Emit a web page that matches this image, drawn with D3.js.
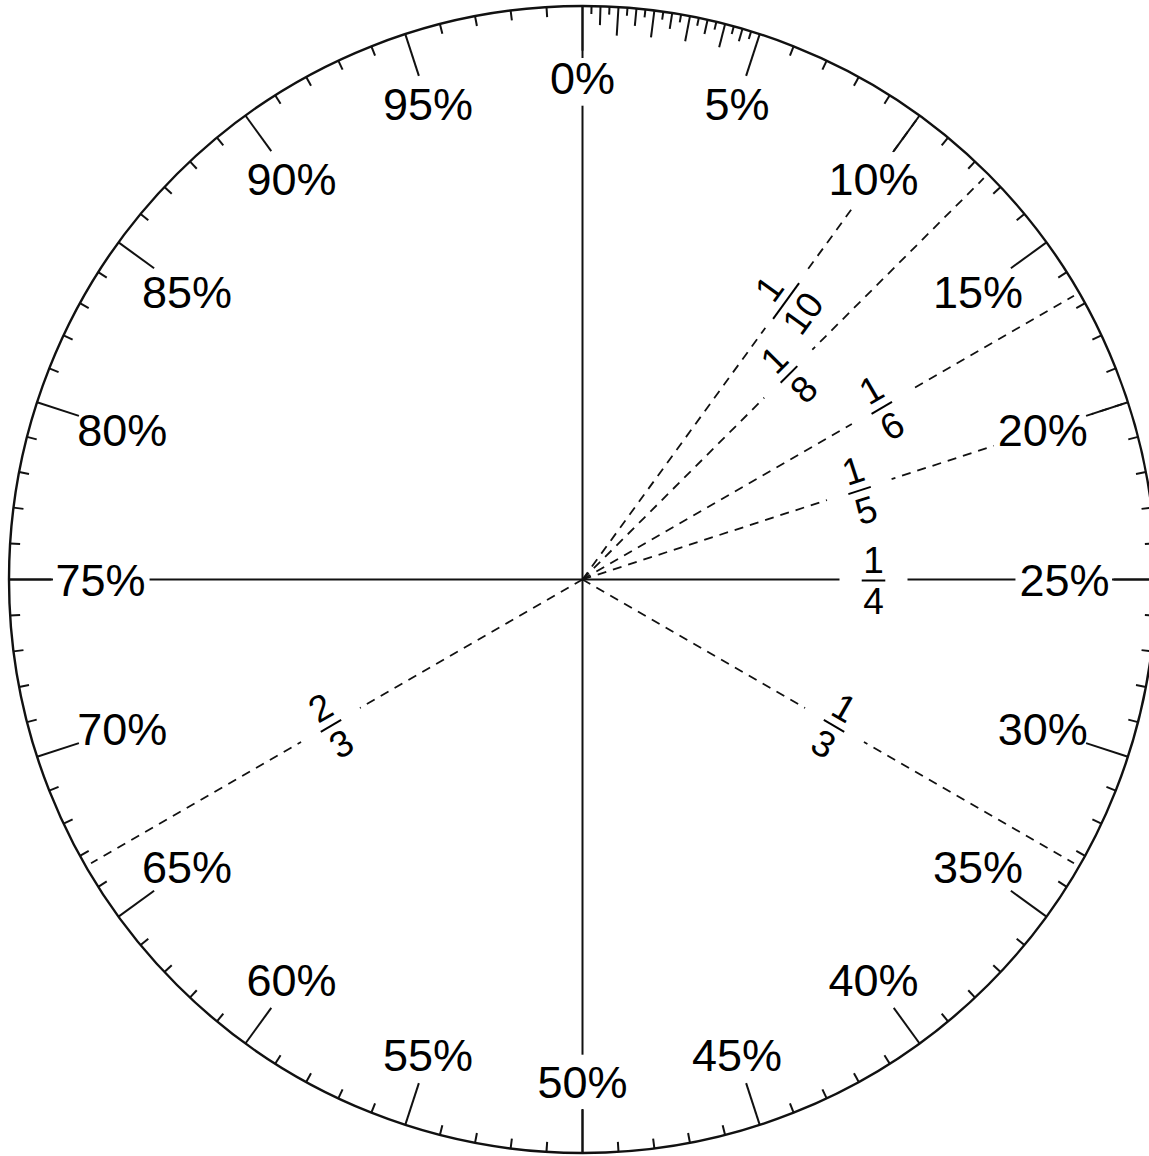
<!DOCTYPE html>
<html>
<head>
<meta charset="utf-8">
<script src="https://cdn.jsdelivr.net/npm/d3@7"></script>
<style>
  body { margin: 0; background: #fff; }
  text { font-family: "Liberation Sans", Arial, Helvetica, sans-serif; fill: #000; }
</style>
</head>
<body>
<script>
const width = 1149;
const height = 1156;
const cx = 582.5;
const cy = 579.5;
const radius = 573.5;

// labelled percentages round the dial
const percentLabels = [0, 5, 10, 15, 20, 25, 30, 35, 40, 45, 50, 55, 60, 65, 70, 75, 80, 85, 90, 95];
// fractions drawn as spokes: [numerator, denominator]
const fractions = [[1, 10], [1, 8], [1, 6], [1, 5], [1, 4], [1, 3], [2, 3]];
// the quarter axes, drawn solid
const axisValues = [0, 25, 50, 75];
// 1% ticks all round, quarter-percent ticks in the first 5%
const tickValues = d3.range(0, 100, 0.25).filter((p) => p < 5 || Number.isInteger(p));

const angle = d3.scaleLinear().domain([0, 100]).range([0, 2 * Math.PI]);
const pt = (p, r) => [cx + r * Math.sin(angle(p)), cy - r * Math.cos(angle(p))];

const svg = d3
  .select("body")
  .append("svg")
  .attr("width", width)
  .attr("height", height);

const gLines = svg.append("g");
const gBg = svg.append("g");
const gDial = svg.append("g");
const gText = svg.append("g");

// solid diameters
gLines
  .selectAll("line.axis")
  .data(axisValues)
  .enter()
  .append("line")
  .attr("class", "axis")
  .attr("x1", cx)
  .attr("y1", cy)
  .attr("x2", (d) => pt(d, radius)[0])
  .attr("y2", (d) => pt(d, radius)[1])
  .attr("stroke", "#111")
  .attr("stroke-width", 2);

// dashed fraction spokes
const fracData = fractions.map(([n, d]) => ({ n, d, p: (100 * n) / d }));
gLines
  .selectAll("line.frac")
  .data(fracData.filter((f) => !axisValues.includes(f.p)))
  .enter()
  .append("line")
  .attr("class", "frac")
  .attr("x1", cx)
  .attr("y1", cy)
  .attr("x2", (d) => pt(d.p, radius - 6)[0])
  .attr("y2", (d) => pt(d.p, radius - 6)[1])
  .attr("stroke", "#111")
  .attr("stroke-width", 1.8)
  .attr("stroke-dasharray", "9,7");

// outer circle
gDial
  .append("circle")
  .attr("cx", cx)
  .attr("cy", cy)
  .attr("r", radius)
  .attr("fill", "none")
  .attr("stroke", "#111")
  .attr("stroke-width", 2.4);

function tickLen(p) {
  if (p === 0) return 52;
  if (p % 5 === 0) return 44;
  if (p < 5) {
    if (Number.isInteger(p)) return 30 - 1.5 * p;
    if (p % 0.5 === 0) return 19.6 - 1.45 * p;
    return 8;
  }
  return 10;
}

gDial
  .selectAll("line.tick")
  .data(tickValues)
  .enter()
  .append("line")
  .attr("class", "tick")
  .attr("x1", (d) => pt(d, radius)[0])
  .attr("y1", (d) => pt(d, radius)[1])
  .attr("x2", (d) => pt(d, radius - tickLen(d))[0])
  .attr("y2", (d) => pt(d, radius - tickLen(d))[1])
  .attr("stroke", "#111")
  .attr("stroke-width", 2);

// percent labels
const labelR = (p) => 502 - 20 * Math.pow(Math.sin(angle(p)), 2);
const pctText = gText
  .selectAll("text.pct")
  .data(percentLabels)
  .enter()
  .append("text")
  .attr("class", "pct")
  .attr("x", (d) => pt(d, labelR(d))[0])
  .attr("y", (d) => pt(d, labelR(d))[1])
  .attr("dy", "0.36em")
  .attr("text-anchor", "middle")
  .attr("font-size", 45)
  .text((d) => d + "%");

pctText.each(function () {
  const b = this.getBBox();
  gBg
    .append("rect")
    .attr("x", b.x - 4)
    .attr("y", b.y - 2)
    .attr("width", b.width + 8)
    .attr("height", b.height + 4)
    .attr("fill", "#fff");
});

// fraction labels sit on their spokes, turned to the spoke's direction
const outerFracs = ["1/10", "1/6"];
fracData.forEach((f) => {
  const key = f.n + "/" + f.d;
  const r = outerFracs.includes(key) ? 345 : 291;
  const [x, y] = pt(f.p, r);
  const a = angle(f.p);
  let rot = (Math.atan2(-Math.cos(a), Math.sin(a)) * 180) / Math.PI;
  if (rot > 90) rot -= 180;
  if (rot <= -90) rot += 180;
  const tr = `translate(${x},${y}) rotate(${rot})`;

  gBg
    .append("rect")
    .attr("transform", tr)
    .attr("x", -34)
    .attr("y", -36)
    .attr("width", 68)
    .attr("height", 76)
    .attr("fill", "#fff");

  const g = gText.append("g").attr("transform", tr);
  const num = g
    .append("text")
    .attr("y", -7)
    .attr("text-anchor", "middle")
    .attr("font-size", 37)
    .text(f.n);
  const den = g
    .append("text")
    .attr("y", 34.5)
    .attr("text-anchor", "middle")
    .attr("font-size", 37)
    .text(f.d);
  const w = Math.max(num.node().getBBox().width, den.node().getBBox().width) + 3;
  g.append("line")
    .attr("x1", -w / 2)
    .attr("x2", w / 2)
    .attr("y1", 1)
    .attr("y2", 1)
    .attr("stroke", "#000")
    .attr("stroke-width", 2);
});
</script>
</body>
</html>
